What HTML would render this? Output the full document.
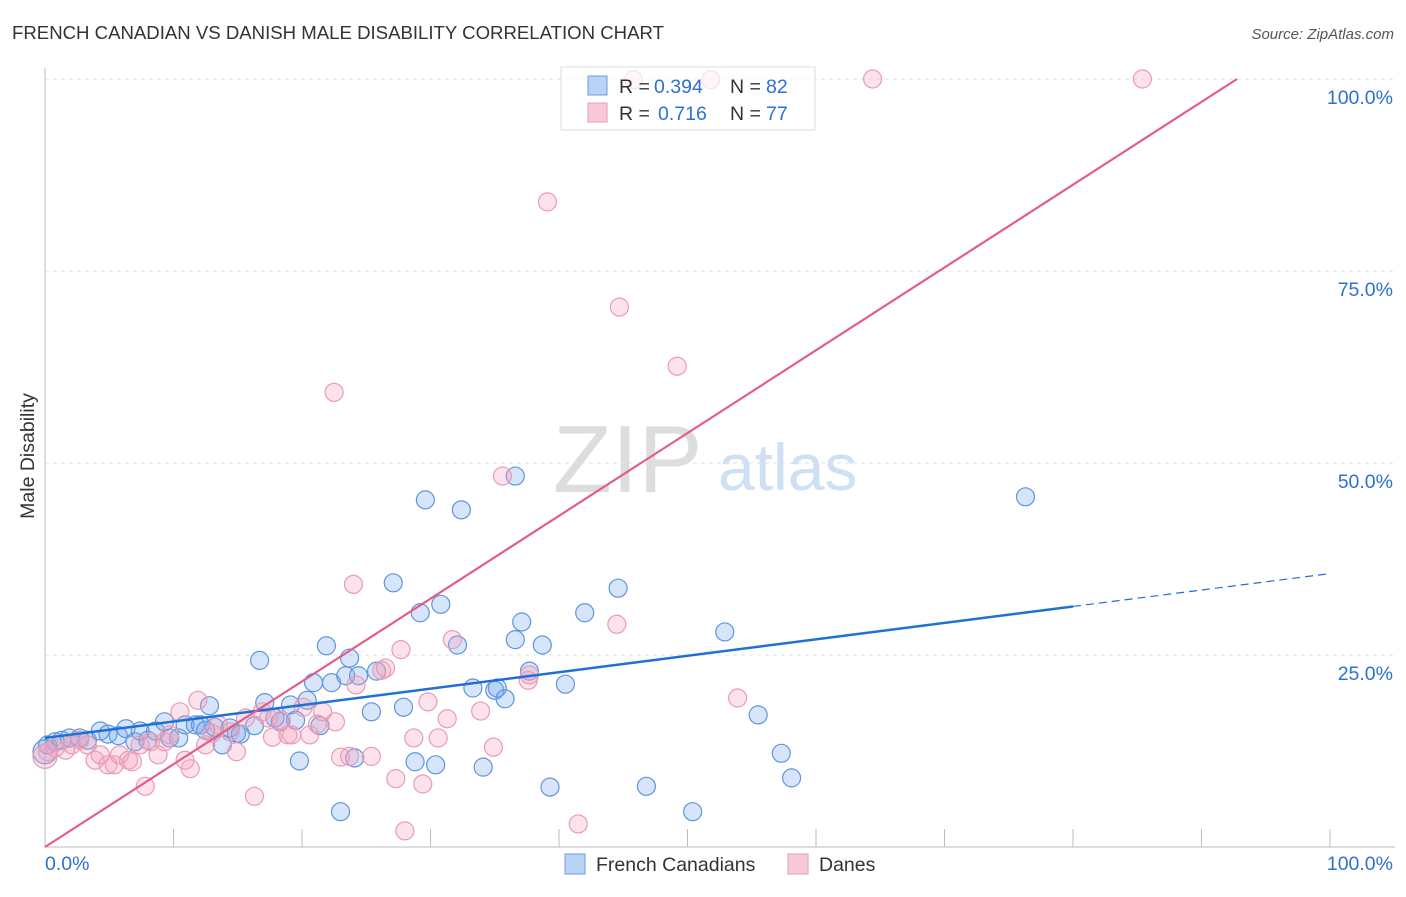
<!DOCTYPE html>
<html><head><meta charset="utf-8"><style>
body{margin:0;background:#fff;font-family:"Liberation Sans",sans-serif;}
svg text{font-family:"Liberation Sans",sans-serif;}
</style></head><body>
<svg id="c" width="1406" height="892">
<text x="12" y="39" font-size="18.6" fill="#333">FRENCH CANADIAN VS DANISH MALE DISABILITY CORRELATION CHART</text>
<text x="1394" y="39" font-size="15" fill="#555" font-style="italic" text-anchor="end">Source: ZipAtlas.com</text>
<text transform="translate(34,456) rotate(-90)" font-size="19.5" fill="#333" text-anchor="middle">Male Disability</text>
<text x="553" y="492" font-size="96" fill="#ddd" font-family="Liberation Serif">ZIP</text>
<text x="718" y="490" font-size="66" fill="#cfe0f4">atlas</text>
<g id="grid"></g><g id="pts"></g><g id="lines"></g>
<rect x="561" y="67" width="254" height="63" fill="rgba(255,255,255,0.7)" stroke="#ddd"/>
<rect x="588" y="76" width="19" height="19" fill="#b9d3f3" stroke="#6a9ee0"/>
<rect x="588" y="103" width="19" height="19" fill="#f9c9d8" stroke="#ea9bb5"/>
<g font-size="19.5">
<text x="619" y="93" fill="#333">R =</text><text x="654" y="93" fill="#2e6fd6">0.394</text>
<text x="730" y="93" fill="#333">N =</text><text x="766" y="93" fill="#2e6fd6">82</text></g>
<g font-size="19.5">
<text x="619" y="120" fill="#333">R =</text><text x="658" y="120" fill="#2e6fd6">0.716</text>
<text x="730" y="120" fill="#333">N =</text><text x="766" y="120" fill="#2e6fd6">77</text></g>
<rect x="565" y="854" width="20" height="20" fill="#b9d3f3" stroke="#6a9ee0"/>
<text x="596" y="871" font-size="19.5" fill="#333">French Canadians</text>
<rect x="788" y="854" width="20" height="20" fill="#f9c9d8" stroke="#ea9bb5"/>
<text x="819" y="871" font-size="19.5" fill="#333">Danes</text>
</svg>
<script>
const yTicks=[25,50,75,100];
const yTickLabels=["25.0%","50.0%","75.0%","100.0%"];
const blueX=[0,0.2,0.8,1.3,1.9,2.7,3.3,4.3,4.9,5.7,6.3,7.0,7.4,8.0,8.6,9.3,9.7,10.4,10.9,11.7,12.1,12.5,12.8,13.2,13.8,14.4,14.9,15.2,16.3,16.7,17.1,17.9,18.3,19.1,19.5,19.8,20.4,20.9,21.4,21.9,22.3,23.0,23.4,23.7,24.1,24.4,25.4,25.8,27.1,27.9,28.8,29.2,29.6,30.4,30.8,32.1,32.4,33.3,34.1,35.0,35.2,35.8,36.6,36.6,37.1,37.7,38.7,39.3,40.5,42.0,44.6,46.8,50.4,52.9,55.5,57.3,58.1,76.3];
const blueY=[12.4,13.3,13.7,13.9,14.2,14.2,13.9,15.1,14.7,14.5,15.4,13.7,15.1,13.9,15.1,16.3,14.2,14.2,15.9,15.9,15.9,15.2,18.4,15.6,13.3,15.5,14.8,14.7,15.8,24.3,18.8,16.8,16.3,18.5,16.5,11.2,19.1,21.4,15.8,26.2,21.4,4.6,22.3,24.6,11.6,22.3,17.6,22.9,34.4,18.2,11.1,30.5,45.2,10.7,31.6,26.3,43.9,20.7,10.4,20.4,20.7,19.3,27.0,48.3,29.3,22.9,26.3,7.8,21.2,30.5,33.7,7.9,4.6,28.0,17.2,12.2,9.0,45.6];
const pinkX=[0,0.2,0.8,1.6,2.1,2.7,3.3,3.9,4.3,4.9,5.4,5.8,6.5,6.8,7.4,7.8,8.2,8.8,9.3,9.7,10.5,10.9,11.3,11.9,12.5,13.0,13.5,14.4,14.9,15.6,16.3,16.9,17.4,17.7,18.4,18.9,19.2,20.1,20.6,21.2,21.6,22.5,22.6,23.0,23.7,24.0,24.2,25.4,26.2,26.5,27.3,27.7,28.0,28.7,29.4,29.8,30.6,31.3,31.7,33.9,34.9,35.6,37.6,37.7,39.1,41.5,44.5,44.7,45.8,49.2,51.8,53.9,64.4,85.4];
const pinkY=[11.8,12.4,12.9,12.6,13.3,13.9,13.3,11.3,12.0,10.7,10.7,12.0,11.3,11.1,13.3,7.9,13.7,12.0,13.7,14.6,17.6,11.3,10.2,19.1,13.3,14.8,15.9,15.0,12.4,16.8,6.6,17.6,16.8,14.3,16.5,14.6,14.6,18.2,14.6,16.0,17.6,59.2,16.3,11.7,11.8,34.2,21.1,11.8,23.0,23.3,8.9,25.7,2.1,14.2,8.2,18.9,14.2,16.7,27.0,17.7,13.0,48.3,21.7,22.4,84.0,3.0,29.0,70.3,99.9,62.6,99.9,19.4,100,100];
const blueFit=[14.2,0.214];
const pinkFit=[0,1.078];
const xTicks=[0,10,20,30,40,50,60,70,80,90,100];
const NS="http://www.w3.org/2000/svg";
const X=v=>45+v*12.85, Y=v=>847-v*7.68;
function mk(t,a,p){const e=document.createElementNS(NS,t);for(const k in a)e.setAttribute(k,a[k]);p.appendChild(e);return e;}
const g=document.getElementById('grid');
yTicks.forEach((t,i)=>{
 const l=mk('line',{x1:45,x2:1395,y1:Y(t),y2:Y(t),stroke:'#e2e2e2','stroke-dasharray':'4,4'},g);
 
 
 const tx=mk('text',{x:1393,y:Y(t)+25,'font-size':19.5,fill:'#2e6fd6','text-anchor':'end'},g);
 tx.textContent=yTickLabels[i];
 
 
});
const ax=mk('line',{x1:45,x2:45,y1:68,y2:847,stroke:'#bbb'},g);


const bx=mk('line',{x1:45,x2:1395,y1:847,y2:847,stroke:'#bbb'},g);


xTicks.forEach(t=>{
 const l=mk('line',{x1:X(t),x2:X(t),y1:829,y2:847,stroke:'#bbb'},g);
 
 
});
const x0=mk('text',{x:45,y:870,'font-size':19.5,fill:'#2e6fd6'},g);x0.textContent='0.0%';


const x1=mk('text',{x:1393,y:870,'font-size':19.5,fill:'#2e6fd6','text-anchor':'end'},g);x1.textContent='100.0%';


const P=document.getElementById('pts');
blueX.forEach((v,i)=>{
 const c=mk('circle',{cx:X(v),cy:Y(blueY[i]),r:i==0?12:9,fill:'rgba(120,170,235,0.3)',stroke:'#5f95dc','stroke-width':1.2},P);
 
 
});
pinkX.forEach((v,i)=>{
 const c=mk('circle',{cx:X(v),cy:Y(pinkY[i]),r:i==0?12:9,fill:'rgba(245,160,190,0.3)',stroke:'#ea9bb5','stroke-width':1.2},P);
 
 
});
const L=document.getElementById('lines');
const b1=mk('line',{x1:X(0),y1:Y(blueFit[0]),x2:X(80),y2:Y(blueFit[0]+80*blueFit[1]),stroke:'#1f6fd8','stroke-width':2.5},L);


const b2=mk('line',{x1:X(80),y1:Y(blueFit[0]+80*blueFit[1]),x2:X(100),y2:Y(blueFit[0]+100*blueFit[1]),stroke:'#1f6fd8','stroke-width':1.2,'stroke-dasharray':'8,5'},L);


const xe=(100-pinkFit[0])/pinkFit[1];
const p1=mk('line',{x1:X(0),y1:Y(pinkFit[0]),x2:X(xe),y2:Y(100),stroke:'#e35d8a','stroke-width':2.2},L);


</script>
</body></html>
